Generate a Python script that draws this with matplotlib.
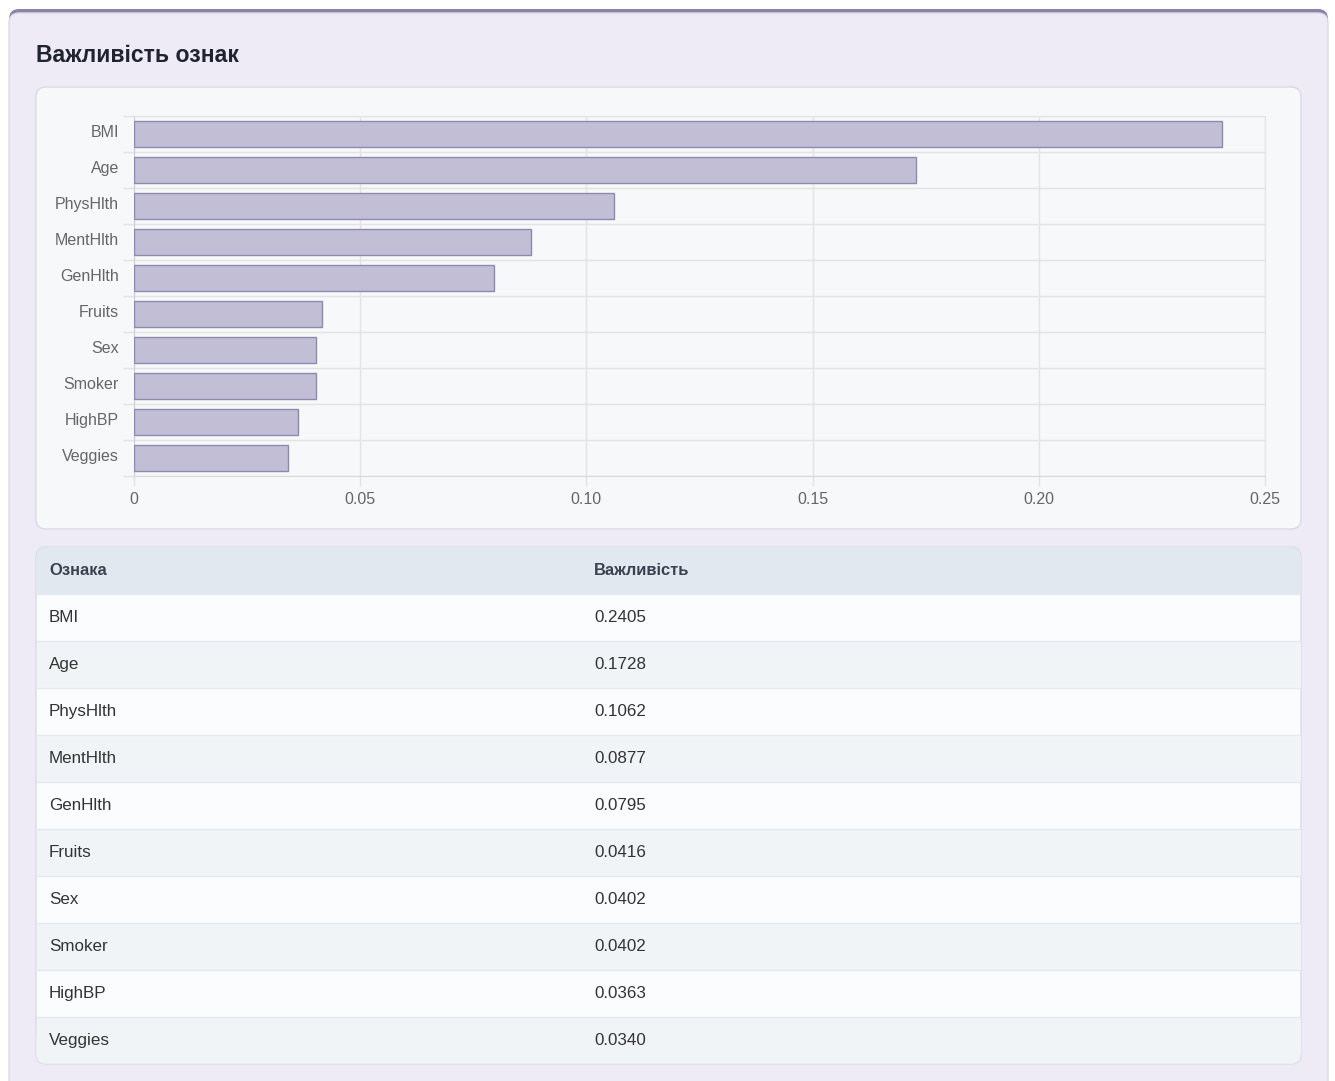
import matplotlib

matplotlib.use("Agg")
import matplotlib.pyplot as plt
from matplotlib.patches import FancyBboxPatch, Rectangle
from matplotlib.transforms import ScaledTranslation

W, H = 1335, 1081

features = ["BMI", "Age", "PhysHlth", "MentHlth", "GenHlth",
            "Fruits", "Sex", "Smoker", "HighBP", "Veggies"]
importance = [0.2405, 0.1728, 0.1062, 0.0877, 0.0795,
              0.0416, 0.0402, 0.0402, 0.0363, 0.0340]
x_ticks = [0, 0.05, 0.10, 0.15, 0.20, 0.25]
x_tick_labels = ["0", "0.05", "0.10", "0.15", "0.20", "0.25"]
title = "Важливість ознак"
col_headers = ["Ознака", "Важливість"]

FONT = ["Liberation Sans", "DejaVu Sans"]
plt.rcParams["font.family"] = FONT


def pt(px):
    return px * 72 / 100


fig = plt.figure(figsize=(W / 100, H / 100), dpi=100)
fig.patch.set_facecolor("white")

# background axes in pixel coordinates
bg = fig.add_axes([0, 0, 1, 1])
bg.set_xlim(0, W)
bg.set_ylim(H, 0)
bg.axis("off")

# outer card with purple top border
bg.add_patch(FancyBboxPatch((9, 9), 1319, 1120, boxstyle="round,pad=0,rounding_size=10",
                            fc="#8a82a8", ec="none"))
bg.add_patch(FancyBboxPatch((9, 13), 1319, 1120, boxstyle="round,pad=0,rounding_size=10",
                            fc="#eeebf6", ec="#dcdae4", lw=1))
bg.text(36, 56, title, fontsize=pt(23), fontweight="bold", color="#1f2430", va="center", ha="left")

# chart panel
bg.add_patch(FancyBboxPatch((36, 87), 1265, 442, boxstyle="round,pad=0,rounding_size=10",
                            fc="#f7f8fa", ec="#d8dae3", lw=1))

# table panel
tx0, tx1 = 36, 1301
ty0, row_h = 547, 47
n_rows = len(features)
bg.add_patch(FancyBboxPatch((tx0, ty0), tx1 - tx0, row_h * (n_rows + 1),
                            boxstyle="round,pad=0,rounding_size=10",
                            fc="#fbfcfd", ec="#d8dde6", lw=1))
bg.add_patch(Rectangle((tx0 + 0.5, ty0 + 8), tx1 - tx0 - 1, row_h - 8, fc="#e2e8f0", ec="none"))
bg.add_patch(FancyBboxPatch((tx0 + 0.5, ty0 + 0.5), tx1 - tx0 - 1, 20,
                            boxstyle="round,pad=0,rounding_size=9", fc="#e2e8f0", ec="none"))
col_x = [49, 594]
for j, h in enumerate(col_headers):
    bg.text(col_x[j], ty0 + row_h / 2, h, fontsize=pt(16.5), color="#3a4250",
            va="center", ha="left", fontweight="bold")
for i, (f, v) in enumerate(zip(features, importance)):
    y0 = ty0 + row_h * (i + 1)
    if i % 2 == 1:
        if i == n_rows - 1:
            bg.add_patch(Rectangle((tx0 + 0.5, y0), tx1 - tx0 - 1, row_h - 10, fc="#f1f4f7", ec="none"))
            bg.add_patch(FancyBboxPatch((tx0 + 0.5, y0 + 10), tx1 - tx0 - 1, row_h - 10.5,
                                        boxstyle="round,pad=0,rounding_size=9", fc="#f1f4f7", ec="none"))
        else:
            bg.add_patch(Rectangle((tx0 + 0.5, y0), tx1 - tx0 - 1, row_h, fc="#f1f4f7", ec="none"))
    bg.plot([tx0 + 0.5, tx1 - 0.5], [y0, y0], color="#e2e8f0", lw=1)
    bg.text(col_x[0], y0 + row_h / 2, f, fontsize=pt(17), color="#333333", va="center", ha="left")
    bg.text(col_x[1], y0 + row_h / 2, f"{v:.4f}", fontsize=pt(17), color="#333333", va="center", ha="left")

# bar chart
ax_l, ax_r, ax_t, ax_b = 134, 1265, 116, 476
ax = fig.add_axes([ax_l / W, 1 - ax_b / H, (ax_r - ax_l) / W, (ax_b - ax_t) / H])
ax.set_facecolor("none")
ypos = list(range(len(features)))
ax.barh(ypos, importance, height=0.72, color="#c2bed5", edgecolor="#8f88b0", lw=1, zorder=3)
ax.set_xlim(0, 0.25)
ax.set_ylim(len(features) - 0.5, -0.5)
ax.set_xticks(x_ticks)
ax.set_xticklabels(x_tick_labels)
ax.set_yticks(ypos)
ax.set_yticklabels(features)
ax.set_yticks([k - 0.5 for k in range(len(features) + 1)], minor=True)
ax.tick_params(axis="y", which="major", length=0, pad=pt(15), labelsize=pt(16), labelcolor="#666666")
ax.tick_params(axis="y", which="minor", length=pt(11), color="#e3e3e6", width=1)
ax.tick_params(axis="x", which="major", length=pt(10), color="#e3e3e6", width=1,
               pad=pt(6), labelsize=pt(16), labelcolor="#666666")
shift = ScaledTranslation(0, 2 / 72, fig.dpi_scale_trans)
for lab in ax.get_yticklabels():
    lab.set_transform(lab.get_transform() + shift)
ax.grid(True, axis="x", which="major", color="#e3e3e6", lw=1, zorder=0)
ax.grid(True, axis="y", which="minor", color="#e3e3e6", lw=1, zorder=0)
for side in ["top", "right"]:
    ax.spines[side].set_color("#e3e3e6")
ax.spines["left"].set_color("#cfcfd6")
ax.spines["bottom"].set_color("#dadade")

fig.savefig("out.png", dpi=100)
